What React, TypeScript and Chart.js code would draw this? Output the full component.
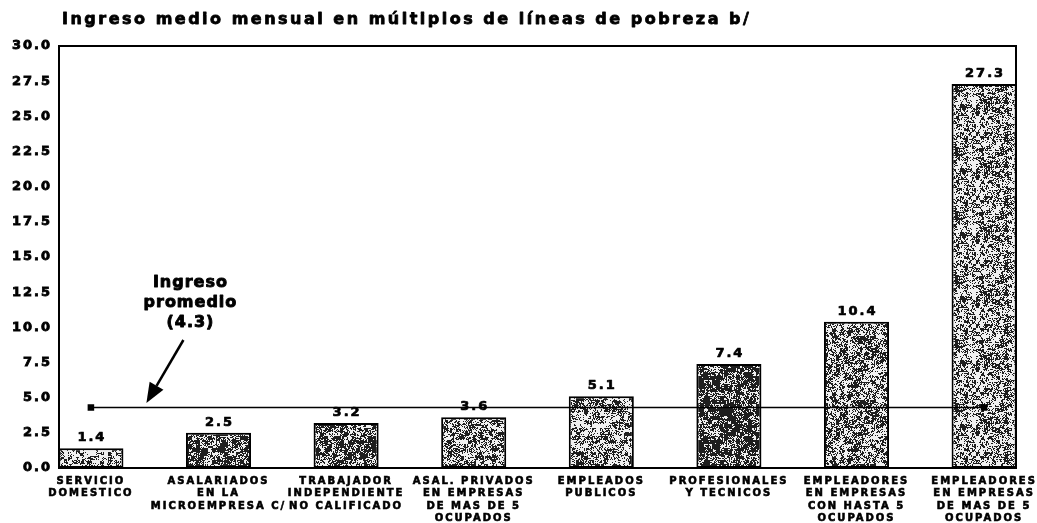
import React, { useEffect, useRef } from "react";
import { Chart, registerables } from "chart.js";

Chart.register(...registerables);

// ---- data ----
const categories: string[][] = [
  ["SERVICIO", "DOMESTICO"],
  ["ASALARIADOS", "EN LA", "MICROEMPRESA C/"],
  ["TRABAJADOR", "INDEPENDIENTE", "NO CALIFICADO"],
  ["ASAL. PRIVADOS", "EN EMPRESAS", "DE MAS DE 5", "OCUPADOS"],
  ["EMPLEADOS", "PUBLICOS"],
  ["PROFESIONALES", "Y TECNICOS"],
  ["EMPLEADORES", "EN EMPRESAS", "CON HASTA 5", "OCUPADOS"],
  ["EMPLEADORES", "EN EMPRESAS", "DE MAS DE 5", "OCUPADOS"],
];
const values: number[] = [1.4, 2.5, 3.2, 3.6, 5.1, 7.4, 10.4, 27.3];
const averageIncome = 4.3;
const yTickValues: number[] = [0, 2.5, 5, 7.5, 10, 12.5, 15, 17.5, 20, 22.5, 25, 27.5, 30];
const titleText = "Ingreso medio mensual en múltiplos de líneas de pobreza b/";
const annotationLines: string[] = ["Ingreso", "promedio", "(4.3)"];

// ---- styles ----
const FONT = "'DejaVu Sans', sans-serif";
const barDensity: number[] = [0.42, 0.6, 0.55, 0.5, 0.47, 0.62, 0.5, 0.45];
const annotationAnchor = { x: 0.78, y: 13.15 };
const arrowTail = { x: 0.725, y: 9.1 };
const arrowTip = { x: 0.435, y: 4.62 };

function hash(x: number, y: number, s: number): number {
  let h = (x * 374761393 + y * 668265263 + s * 2147483647) | 0;
  h = Math.imul(h ^ (h >>> 13), 1274126177);
  h = h ^ (h >>> 16);
  return ((h >>> 0) % 10000) / 10000;
}

function makePattern(seed: number, density: number): CanvasPattern | string {
  const size = 64;
  const c = document.createElement("canvas");
  c.width = size;
  c.height = size;
  const ctx = c.getContext("2d");
  if (!ctx) return "#999";
  const img = ctx.createImageData(size, size);
  for (let y = 0; y < size; y++) {
    for (let x = 0; x < size; x++) {
      const fine = hash(x, y, seed);
      const coarse = hash(x >> 2, y >> 2, seed + 17);
      const v = 0.55 * fine + 0.45 * coarse;
      const dark = v < density;
      const i = (y * size + x) * 4;
      const g = dark ? 30 : 240;
      img.data[i] = g;
      img.data[i + 1] = g;
      img.data[i + 2] = g;
      img.data[i + 3] = 255;
    }
  }
  ctx.putImageData(img, 0, 0);
  return ctx.createPattern(c, "repeat") || "#999";
}

function boldText(ctx: CanvasRenderingContext2D, t: string, x: number, y: number, w: number) {
  ctx.lineWidth = w;
  ctx.lineJoin = "round";
  ctx.strokeText(t, x, y);
  ctx.fillText(t, x, y);
}

const decorPlugin = {
  id: "decor",
  beforeDraw(chart: any) {
    chart.ctx.letterSpacing = "2px";
  },
  afterDatasetsDraw(chart: any) {
    const ctx = chart.ctx;
    const meta = chart.getDatasetMeta(1);
    ctx.save();
    ctx.letterSpacing = "2px";
    ctx.font = `bold 13px ${FONT}`;
    ctx.fillStyle = "#000";
    ctx.strokeStyle = "#000";
    ctx.textAlign = "center";
    ctx.textBaseline = "alphabetic";
    meta.data.forEach((el: any, i: number) => {
      boldText(ctx, values[i].toFixed(1), el.x + 1, el.y - 7, 0.7);
    });
    ctx.restore();
  },
  afterDraw(chart: any) {
    const ctx = chart.ctx;
    const { left, right, top, bottom } = chart.chartArea;
    const xs = chart.scales.x;
    const ys = chart.scales.y;
    ctx.save();
    // frame
    ctx.strokeStyle = "#000";
    ctx.fillStyle = "#000";
    ctx.lineWidth = 2;
    ctx.beginPath();
    ctx.moveTo(left, top);
    ctx.lineTo(right, top);
    ctx.lineTo(right, bottom);
    ctx.stroke();
    // title
    ctx.letterSpacing = "2.5px";
    ctx.font = `bold 16px ${FONT}`;
    ctx.textAlign = "left";
    ctx.textBaseline = "middle";
    boldText(ctx, titleText, left + 3, 20, 0.8);
    // annotation text
    ctx.letterSpacing = "1px";
    ctx.font = `bold 16px ${FONT}`;
    ctx.textAlign = "center";
    const ax = xs.getPixelForValue(annotationAnchor.x);
    const ay = ys.getPixelForValue(annotationAnchor.y);
    annotationLines.forEach((t, i) => boldText(ctx, t, ax, ay + i * 20, 0.9));
    // arrow
    const tx = xs.getPixelForValue(arrowTail.x);
    const ty = ys.getPixelForValue(arrowTail.y);
    const hx = xs.getPixelForValue(arrowTip.x);
    const hy = ys.getPixelForValue(arrowTip.y);
    const ang = Math.atan2(hy - ty, hx - tx);
    const headLen = 20;
    const headW = 8;
    const bx = hx - headLen * Math.cos(ang);
    const by = hy - headLen * Math.sin(ang);
    ctx.lineWidth = 2.5;
    ctx.beginPath();
    ctx.moveTo(tx, ty);
    ctx.lineTo(bx, by);
    ctx.stroke();
    ctx.beginPath();
    ctx.moveTo(hx, hy);
    ctx.lineTo(bx + headW * Math.sin(ang), by - headW * Math.cos(ang));
    ctx.lineTo(bx - headW * Math.sin(ang), by + headW * Math.cos(ang));
    ctx.closePath();
    ctx.fill();
    ctx.restore();
  },
};

export default function App() {
  const ref = useRef<HTMLCanvasElement | null>(null);

  useEffect(() => {
    document.body.style.margin = "0";
    const canvas = ref.current;
    if (!canvas) return;
    const patterns = values.map((_, i) => makePattern(i + 1, barDensity[i]));
    const chart = new Chart(canvas, {
      data: {
        datasets: [
          {
            type: "line" as const,
            data: [
              { x: 0, y: averageIncome },
              { x: values.length - 1, y: averageIncome },
            ],
            borderColor: "#000",
            borderWidth: 1.6,
            pointStyle: "rect",
            pointRadius: 3.5,
            pointBackgroundColor: "#000",
            pointBorderColor: "#000",
            order: 0,
          },
          {
            type: "bar" as const,
            data: values.map((v, i) => ({ x: i, y: v })),
            backgroundColor: patterns as any,
            borderColor: "#000",
            borderWidth: 2,
            borderSkipped: false,
            categoryPercentage: 1,
            barPercentage: 0.51,
            order: 1,
          },
        ],
      } as any,
      options: {
        animation: false,
        responsive: false,
        maintainAspectRatio: false,
        layout: { padding: { top: 46, right: 21, left: 0, bottom: 0 } },
        plugins: {
          legend: { display: false },
          tooltip: { enabled: false },
          title: { display: false },
        },
        scales: {
          x: {
            type: "linear",
            offset: false,
            min: -0.25,
            max: values.length - 0.75,
            grid: { display: false, drawTicks: false, offset: false },
            border: { display: true, color: "#000", width: 2 },
            afterBuildTicks: (scale: any) => {
              scale.ticks = categories.map((_, i) => ({ value: i }));
            },
            afterFit: (scale: any) => {
              scale.height = 55;
            },
            ticks: {
              autoSkip: false,
              maxRotation: 0,
              minRotation: 0,
              padding: 7,
              color: "#000",
              textStrokeColor: "#000",
              textStrokeWidth: 0.6,
              font: { family: FONT, size: 10, weight: "bold", lineHeight: 1.25 },
              callback: (v: any) => categories[Math.round(Number(v))] ?? "",
            },
          },
          y: {
            type: "linear",
            min: 0,
            max: 30,
            grid: { display: false, drawTicks: false },
            border: { display: true, color: "#000", width: 2 },
            afterBuildTicks: (scale: any) => {
              scale.ticks = yTickValues.map((v) => ({ value: v }));
            },
            afterFit: (scale: any) => {
              scale.width = 59;
            },
            ticks: {
              padding: 7,
              color: "#000",
              textStrokeColor: "#000",
              textStrokeWidth: 0.8,
              font: { family: FONT, size: 13, weight: "bold" },
              callback: (v: any) => Number(v).toFixed(1),
            },
          },
        },
      } as any,
      plugins: [decorPlugin],
    });
    return () => chart.destroy();
  }, []);

  return (
    <div style={{ width: 1037, height: 523, background: "#fff" }}>
      <canvas ref={ref} width={1037} height={523} style={{ display: "block" }} />
    </div>
  );
}
